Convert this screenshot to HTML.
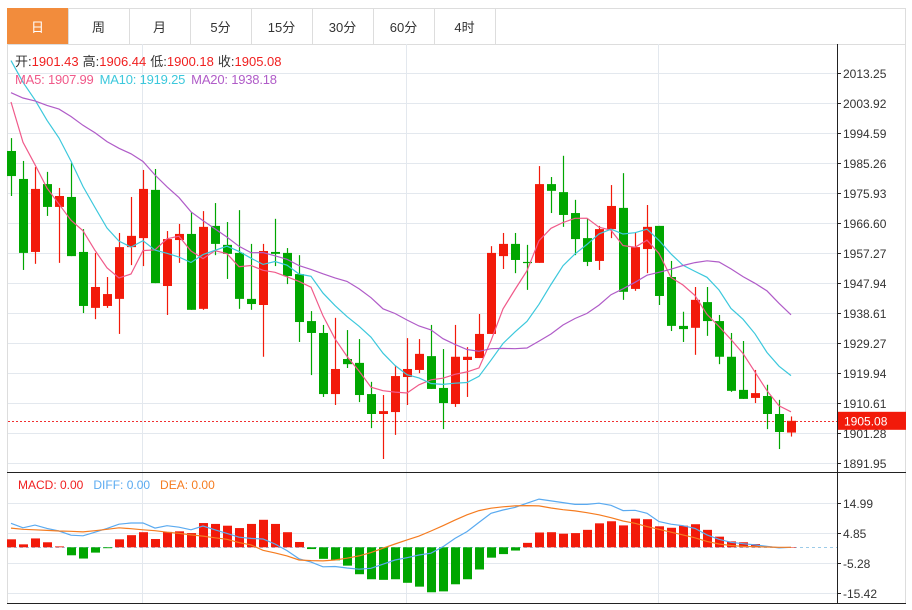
<!DOCTYPE html>
<html><head><meta charset="utf-8">
<style>
body{margin:0;background:#fff;width:912px;height:605px;overflow:hidden;font-family:"Liberation Sans","Noto Sans CJK SC",sans-serif;}
svg text{font-family:"Liberation Sans","Noto Sans CJK SC",sans-serif;}
</style></head><body>
<svg id="chart" width="912" height="605" xmlns="http://www.w3.org/2000/svg">
<g id="tabs"></g>
<g id="grid"></g>
<g id="marks"></g>
<g id="axis"></g>
<g id="legend">
<text x="15" y="66" font-size="13"><tspan fill="#333">开:</tspan><tspan fill="#f02020">1901.43</tspan><tspan fill="#333" dx="4">高:</tspan><tspan fill="#f02020">1906.44</tspan><tspan fill="#333" dx="4">低:</tspan><tspan fill="#f02020">1900.18</tspan><tspan fill="#333" dx="4">收:</tspan><tspan fill="#f02020">1905.08</tspan></text>
<text x="15" y="84" font-size="13" textLength="262"><tspan fill="#f05a8a">MA5: 1907.99</tspan><tspan fill="#3cc8dc" dx="6">MA10: 1919.25</tspan><tspan fill="#b05cc8" dx="6">MA20: 1938.18</tspan></text>
<text x="18" y="489" font-size="12"><tspan fill="#f02020">MACD: 0.00</tspan><tspan fill="#5aaaf0" dx="10">DIFF: 0.00</tspan><tspan fill="#f57c20" dx="10">DEA: 0.00</tspan></text>
</g>
</svg>
<script>
const opens=[1989.0,1980.3,1957.6,1978.7,1971.6,1974.7,1957.6,1940.2,1940.8,1943.0,1959.1,1961.9,1976.9,1947.0,1961.3,1963.2,1939.9,1965.7,1959.8,1957.3,1943.0,1941.1,1957.6,1957.3,1950.7,1936.1,1932.4,1913.4,1924.3,1923.1,1913.4,1907.2,1907.8,1918.7,1920.9,1925.2,1915.3,1910.3,1924.0,1924.6,1932.1,1956.3,1960.1,1954.5,1954.2,1978.7,1976.2,1969.7,1961.9,1954.8,1964.7,1971.3,1946.1,1958.5,1965.7,1949.8,1934.6,1934.0,1942.0,1936.1,1925.0,1914.7,1912.2,1912.8,1907.2,1901.43];
const highs=[1993.0,1985.9,1984.0,1982.5,1977.5,1985.3,1964.7,1957.3,1949.8,1963.5,1974.7,1983.1,1983.4,1964.1,1966.3,1970.0,1970.3,1972.8,1966.9,1970.6,1960.1,1960.1,1967.9,1958.8,1956.6,1939.2,1934.9,1937.1,1933.3,1930.5,1917.2,1913.1,1922.1,1930.8,1930.5,1934.9,1927.4,1934.9,1928.0,1938.3,1959.4,1963.5,1963.5,1959.8,1984.3,1980.9,1987.5,1973.8,1967.9,1965.7,1978.4,1982.1,1963.5,1972.2,1965.7,1954.8,1939.0,1946.7,1946.7,1938.0,1932.4,1929.9,1920.9,1916.3,1911.6,1906.44];
const lows=[1975.0,1952.0,1953.9,1968.8,1954.2,1956.3,1938.6,1936.7,1940.2,1932.1,1953.5,1953.2,1947.9,1938.0,1954.2,1939.6,1939.6,1956.6,1949.2,1939.9,1939.6,1925.0,1953.2,1947.6,1929.6,1919.3,1912.5,1910.0,1921.5,1910.9,1902.8,1893.2,1900.7,1910.0,1919.9,1915.0,1902.5,1909.4,1912.5,1924.6,1932.1,1952.3,1951.0,1945.8,1954.2,1969.7,1965.4,1956.6,1953.2,1952.0,1961.9,1942.7,1945.5,1951.0,1941.1,1933.0,1929.6,1925.6,1931.5,1922.7,1914.1,1911.9,1910.6,1902.5,1896.3,1900.18];
const closes=[1981.2,1957.3,1977.2,1971.6,1975.0,1956.3,1940.8,1946.7,1944.5,1959.1,1962.6,1977.2,1947.9,1961.6,1963.2,1939.6,1965.4,1960.1,1957.0,1943.0,1941.4,1957.9,1957.0,1950.1,1935.8,1932.4,1913.4,1921.2,1922.7,1913.1,1907.2,1908.1,1919.0,1921.2,1925.9,1915.0,1910.6,1925.0,1925.0,1932.1,1957.3,1960.1,1955.1,1954.3,1978.7,1976.6,1969.1,1961.6,1954.5,1964.7,1971.9,1945.2,1959.1,1965.4,1943.9,1934.6,1933.6,1942.7,1936.1,1925.0,1914.4,1911.9,1913.7,1907.2,1901.6,1905.08];
const prevCloses=[1990,1995,2000,1998,2002,1996,1993,1999,2001,1997,2025,2032,2035,2030,2028,2020,2012,2008,2000];
const macdHist=[2.7,1.0,3.0,1.7,0.3,-2.7,-3.8,-1.8,-0.3,2.7,4.1,5.1,2.8,5.2,5.4,4.8,8.2,7.9,7.3,6.5,7.9,9.3,7.9,5.1,1.8,-0.6,-3.9,-4.4,-6.2,-9.1,-10.8,-11.0,-10.8,-12.0,-13.3,-15.2,-14.9,-12.5,-10.8,-7.5,-3.5,-2.3,-1.1,1.5,5.0,5.1,4.6,4.8,5.9,8.1,8.8,7.4,9.7,9.5,7.1,6.6,7.3,7.8,5.9,3.6,2.0,1.7,1.1,0.3,0.1,0.0];
const diffLine=[8.1,6.6,7.5,6.4,5.5,4.1,3.9,5.1,6.4,7.8,8.2,8.2,6.5,7.3,6.8,5.9,7.2,5.9,4.7,3.4,3.0,2.8,1.1,-1.1,-3.9,-5.0,-6.6,-6.5,-7.0,-7.4,-7.1,-5.7,-4.3,-3.5,-2.6,-2.0,0.2,3.0,5.3,8.4,11.5,12.6,13.5,14.9,16.3,15.7,15.1,14.5,14.5,14.9,14.2,12.4,12.5,11.5,8.7,7.8,7.3,6.4,4.2,2.7,1.7,1.2,0.8,0.3,-0.2,0.0];
const deaLine=[6.5,6.1,5.9,5.7,5.5,5.4,5.2,5.6,6.1,6.6,6.3,5.9,5.6,5.1,4.7,4.2,3.8,3.2,2.7,1.6,0.8,-1.0,-1.9,-2.9,-4.3,-4.5,-4.6,-4.3,-3.7,-2.9,-1.8,-0.3,1.1,2.5,3.8,5.5,7.3,9.2,11.0,12.4,13.2,13.7,14.0,14.1,14.0,13.3,12.7,12.3,11.7,11.0,10.0,8.9,8.1,7.0,6.1,5.1,4.2,3.2,2.0,1.1,0.6,0.3,0.2,0.1,0.0,0.0];
const priceTicks=[2013.25,2003.92,1994.59,1985.26,1975.93,1966.60,1957.27,1947.94,1938.61,1929.27,1919.94,1910.61,1901.28,1891.95];
const macdTicks=[14.99,4.85,-5.28,-15.42];
const tabLabels=["日","周","月","5分","15分","30分","60分","4时"];
const lastPrice=1905.08;

const NS="http://www.w3.org/2000/svg";
function el(parent,tag,attrs){const e=document.createElementNS(NS,tag);for(const k in attrs)e.setAttribute(k,attrs[k]);parent.appendChild(e);return e;}
const xS=i=>11+12*i;
const yP=p=>73+(2013.25-p)/(9.33/30);
const yM=v=>547.3-v*(30/10.14);
const RED="#f21a0a",GREEN="#00a600";

const tabs=document.getElementById('tabs');
const tf=el(tabs,'rect',{x:7.5,y:8.5,width:898,height:36,fill:'#fff',stroke:'#ddd'});


tabLabels.forEach((t,i)=>{
  const x=7+61*i;
  const g=el(tabs,'g',{});
  
  
  el(g,'rect',{x:x+0.5,y:8.5,width:61,height:36,fill:i==0?'#f28c3c':'#fff',stroke:i==0?'#f28c3c':'#ddd'});
  const tx=el(g,'text',{x:x+30.5,y:32,'text-anchor':'middle','font-size':13,fill:i==0?'#fff':'#333'});
  tx.textContent=t;
});
const grid=document.getElementById('grid');
el(grid,'rect',{x:7.5,y:44.5,width:898,height:559,fill:'none',stroke:'#ddd'});
priceTicks.forEach(p=>{const y=Math.round(yP(p))+0.5;el(grid,'line',{x1:8,x2:837,y1:y,y2:y,stroke:'#e3e8ee'});});
macdTicks.forEach(v=>{const y=Math.round(yM(v))+0.5;el(grid,'line',{x1:8,x2:837,y1:y,y2:y,stroke:'#e3e8ee'});});
[142,406,658].forEach(x=>el(grid,'line',{x1:x+0.5,x2:x+0.5,y1:44,y2:603,stroke:'#e3e8ee'}));
el(grid,'line',{x1:7,x2:906,y1:472.5,y2:472.5,stroke:'#222'});
el(grid,'line',{x1:7,x2:906,y1:603.5,y2:603.5,stroke:'#222'});
el(grid,'line',{x1:837.5,x2:837.5,y1:44,y2:604,stroke:'#222'});
el(grid,'line',{x1:8,x2:837,y1:547.5,y2:547.5,stroke:'#9ccbe8','stroke-dasharray':'3,3'});
el(grid,'line',{x1:8,x2:837,y1:Math.round(yP(lastPrice))+0.5,y2:Math.round(yP(lastPrice))+0.5,stroke:'#f03030','stroke-dasharray':'2,2'});

const marks=document.getElementById('marks');
closes.forEach((c,i)=>{
  const o=opens[i],up=c>=o,col=up?RED:GREEN,x=xS(i);
  const g=el(marks,'g',{});
  
  
  el(g,'line',{x1:x+0.5,x2:x+0.5,y1:yP(highs[i]),y2:yP(lows[i]),stroke:col,'stroke-width':1.2});
  const t=yP(Math.max(o,c)),b=yP(Math.min(o,c));
  el(g,'rect',{x:x-4,y:t,width:9,height:Math.max(1.2,b-t),fill:col});
});
const all=prevCloses.concat(closes);
function ma(n){return closes.map((_,i)=>{const j=i+prevCloses.length;let s=0;for(let k=j-n+1;k<=j;k++)s+=all[k];return s/n;});}
[[5,'#f05a8a'],[10,'#3cc8dc'],[20,'#b05cc8']].forEach(([n,col])=>{
  const pts=ma(n).map((v,i)=>xS(i)+','+yP(v).toFixed(1)).join(' ');
  const pl=el(marks,'polyline',{points:pts,fill:'none',stroke:col,'stroke-width':1.2});
  
  
});
macdHist.forEach((v,i)=>{
  const y0=yM(0),y1=yM(v);
  const r=el(marks,'rect',{x:xS(i)-4,y:Math.min(y0,y1),width:9,height:Math.max(0.5,Math.abs(y1-y0)),fill:v>=0?RED:GREEN});
  
  
});
[[diffLine,'#5aaaf0','diff-line'],[deaLine,'#f57c20','dea-line']].forEach(([arr,col,nm])=>{
  const pts=arr.map((v,i)=>xS(i)+','+yM(v).toFixed(1)).join(' ');
  const pl=el(marks,'polyline',{points:pts,fill:'none',stroke:col,'stroke-width':1.2});
  
  
});
const ax=document.getElementById('axis');
priceTicks.forEach(p=>{const y=Math.round(yP(p))+0.5;el(ax,'line',{x1:837,x2:841,y1:y,y2:y,stroke:'#222'});
  const t=el(ax,'text',{x:843,y:y+4.5,'font-size':12,fill:'#333'});t.textContent=p.toFixed(2);
  
  });
macdTicks.forEach(v=>{const y=Math.round(yM(v))+0.5;el(ax,'line',{x1:837,x2:841,y1:y,y2:y,stroke:'#222'});
  const t=el(ax,'text',{x:843,y:y+4.5,'font-size':12,fill:'#333'});t.textContent=v.toFixed(2);
  
  });
const ly=yP(lastPrice);
const lb=el(ax,'rect',{x:838,y:ly-9,width:68,height:18,fill:'#f21a0a'});


const lt=el(ax,'text',{x:844,y:ly+4.5,'font-size':12,fill:'#fff'});lt.textContent=lastPrice.toFixed(2);
</script>
</body></html>
